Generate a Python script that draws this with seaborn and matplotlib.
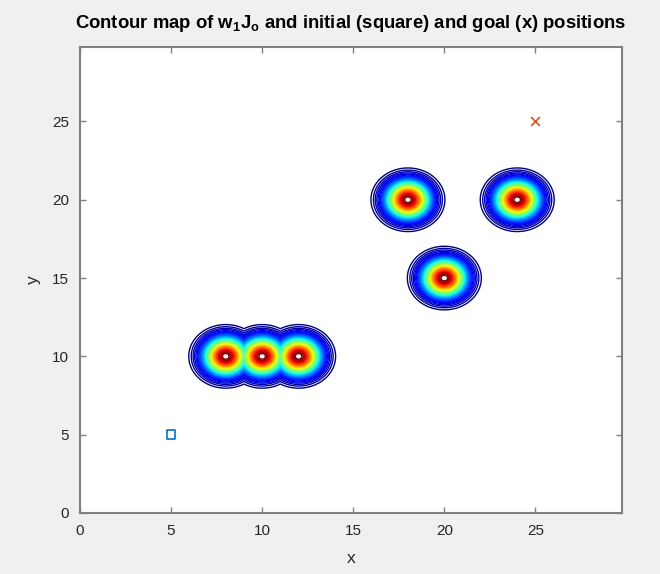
import numpy as np
import pandas as pd
import matplotlib
matplotlib.use('Agg')
import matplotlib.pyplot as plt
import seaborn as sns

# Obstacle centres (potential peaks)
obs_x = [8, 10, 12, 18, 24, 20]
obs_y = [10, 10, 10, 20, 20, 15]

# Initial and goal positions
start_x, start_y = [5], [5]
goal_x, goal_y = [25], [25]

x_ticks = [0, 5, 10, 15, 20, 25]
y_ticks = [0, 5, 10, 15, 20, 25]

sns.set_style('white')
plt.rcParams['font.family'] = ['Liberation Sans', 'DejaVu Sans']
plt.rcParams['mathtext.default'] = 'regular'

fig = plt.figure(figsize=(6.6, 5.74), dpi=100)
fig.patch.set_facecolor('#f0f0f0')
ax = fig.add_axes([0.1212, 0.1063, 0.8212, 0.8117])
ax.set_facecolor('white')

# Obstacle cost surface: max of gaussian bumps
gx = np.arange(0, 29.76, 0.04)
gy = np.arange(0, 29.76, 0.04)
X, Y = np.meshgrid(gx, gy)
sigma = 0.8
J = np.zeros_like(X)
for ox, oy in zip(obs_x, obs_y):
    J = np.maximum(J, np.exp(-((X - ox) ** 2 + (Y - oy) ** 2) / (2 * sigma ** 2)))

levels = np.linspace(0.04, 0.975, 46)
ax.contour(X, Y, J, levels=levels, cmap='jet', linewidths=1.0)

# Start and goal markers
pts = pd.DataFrame({'x': start_x + goal_x, 'y': start_y + goal_y,
                    'kind': ['start', 'goal']})
sns.scatterplot(data=pts[pts.kind == 'start'], x='x', y='y', marker='s', s=40,
                facecolor='none', edgecolor='#0072BD', linewidth=1.2, ax=ax,
                legend=False)
sns.scatterplot(data=pts[pts.kind == 'goal'], x='x', y='y', marker='x', s=40,
                color='#D95319', linewidth=1.2, ax=ax, legend=False)

ax.set_xlim(0, 29.75)
ax.set_ylim(0, 29.75)
ax.set_xticks(x_ticks)
ax.set_yticks(y_ticks)
ax.tick_params(direction='in', length=4, width=1, colors='#808080',
               labelcolor='#262626', labelsize=11, top=True, right=True,
               bottom=True, left=True, pad=8)
for sp in ax.spines.values():
    sp.set_color('#808080')
    sp.set_linewidth(1.5)
    sp.set_visible(True)

ax.set_xlabel('x', fontsize=12.5, color='#262626', labelpad=9)
ax.set_ylabel('y', fontsize=12.5, color='#262626', labelpad=8)
ax.set_title('Contour map of w$_1$J$_o$ and initial (square) and goal (x) positions',
             fontsize=13.3, fontweight='bold', color='black', pad=14)

fig.savefig('out.png', dpi=100, facecolor=fig.get_facecolor())
